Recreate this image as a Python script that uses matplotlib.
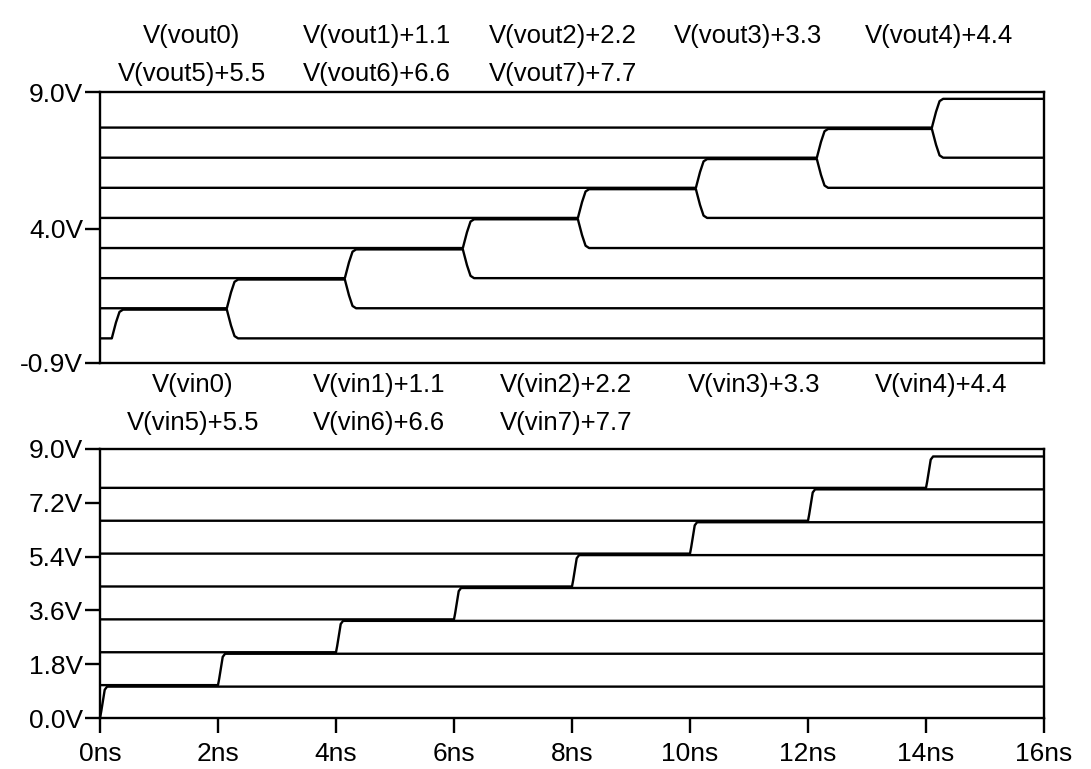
import matplotlib
matplotlib.use("Agg")
import matplotlib.pyplot as plt

plt.rcParams['font.family'] = ['Liberation Sans', 'DejaVu Sans']

# offsets added to each trace (V)
offsets = [0.0, 1.1, 2.2, 3.3, 4.4, 5.5, 6.6, 7.7]

# vout traces: time of rising and falling edge (ns), None = stays high
vout_rise = [0.2, 2.15, 4.15, 6.15, 8.1, 10.1, 12.15, 14.1]
vout_fall = [2.15, 4.15, 6.15, 8.1, 10.1, 12.15, 14.1, None]
vout_high = 1.05

# vin traces: rising edge time (ns)
vin_rise = [0.0, 2.0, 4.0, 6.0, 8.0, 10.0, 12.0, 14.0]
vin_high = 1.05

t_end = 16.0

# edge shapes (time after edge start in ns, fraction of swing)
vout_edge_t = [0.0, 0.015, 0.07, 0.13, 0.19]
vout_edge_f = [0.0, 0.12, 0.55, 0.92, 1.0]
vin_edge_t = [0.0, 0.02, 0.08, 0.12]
vin_edge_f = [0.0, 0.2, 0.9, 1.0]

top_labels_row1 = ['V(vout0)', 'V(vout1)+1.1', 'V(vout2)+2.2', 'V(vout3)+3.3', 'V(vout4)+4.4']
top_labels_row2 = ['V(vout5)+5.5', 'V(vout6)+6.6', 'V(vout7)+7.7']
bot_labels_row1 = ['V(vin0)', 'V(vin1)+1.1', 'V(vin2)+2.2', 'V(vin3)+3.3', 'V(vin4)+4.4']
bot_labels_row2 = ['V(vin5)+5.5', 'V(vin6)+6.6', 'V(vin7)+7.7']

top_yticks = [-0.9, 4.0, 9.0]
bot_yticks = [0.0, 1.8, 3.6, 5.4, 7.2, 9.0]
xticks = [0, 2, 4, 6, 8, 10, 12, 14, 16]


def wave(off, high, rise, fall, et, ef):
    t = [0.0, rise]
    v = [off, off]
    for a, b in zip(et, ef):
        t.append(rise + a)
        v.append(off + high * b)
    if fall is not None:
        t.append(fall)
        v.append(off + high)
        for a, b in zip(et, ef):
            t.append(fall + a)
            v.append(off + high * (1 - b))
        v[-1] = off
    t.append(t_end)
    v.append(v[-1])
    return t, v


fig = plt.figure(figsize=(10.91, 7.69), dpi=100)
ax1 = fig.add_axes([100/1091, 406/769, 944/1091, 271/769])
ax2 = fig.add_axes([100/1091, 51/769, 944/1091, 269/769])

lw = 1.7
for i in range(8):
    t, v = wave(offsets[i], vout_high, vout_rise[i], vout_fall[i], vout_edge_t, vout_edge_f)
    ax1.plot(t, v, color='black', lw=lw, solid_joinstyle='round')
    t, v = wave(offsets[i], vin_high, vin_rise[i], None, vin_edge_t, vin_edge_f)
    ax2.plot(t, v, color='black', lw=lw, solid_joinstyle='round')

fs_tick = 19
fs_lab = 18.5

for ax in (ax1, ax2):
    ax.set_xlim(0, 16)
    for s in ax.spines.values():
        s.set_linewidth(lw)
    ax.tick_params(axis='y', direction='out', length=11, width=lw, pad=1, labelsize=fs_tick)
    ax.tick_params(axis='x', direction='out', length=11, width=lw, pad=6, labelsize=fs_tick)

ax1.set_ylim(-0.9, 9.0)
ax1.set_yticks(top_yticks)
ax1.set_yticklabels(['%.1fV' % y for y in top_yticks])
ax1.set_xticks([])

ax2.set_ylim(0, 9.0)
ax2.set_yticks(bot_yticks)
ax2.set_yticklabels(['%.1fV' % y for y in bot_yticks])
ax2.set_xticks(xticks)
ax2.set_xticklabels(['%dns' % x for x in xticks])

top_cols = [0.097, 0.293, 0.49, 0.686, 0.889]
for x, s in zip(top_cols, top_labels_row1):
    ax1.text(x, 1.207, s, transform=ax1.transAxes, ha='center', va='center', fontsize=fs_lab)
for x, s in zip(top_cols, top_labels_row2):
    ax1.text(x, 1.068, s, transform=ax1.transAxes, ha='center', va='center', fontsize=fs_lab)

bot_cols = [0.0985, 0.2956, 0.494, 0.693, 0.891]
for x, s in zip(bot_cols, bot_labels_row1):
    ax2.text(x, 1.239, s, transform=ax2.transAxes, ha='center', va='center', fontsize=fs_lab)
for x, s in zip(bot_cols, bot_labels_row2):
    ax2.text(x, 1.097, s, transform=ax2.transAxes, ha='center', va='center', fontsize=fs_lab)

fig.savefig('out.png', dpi=100)
